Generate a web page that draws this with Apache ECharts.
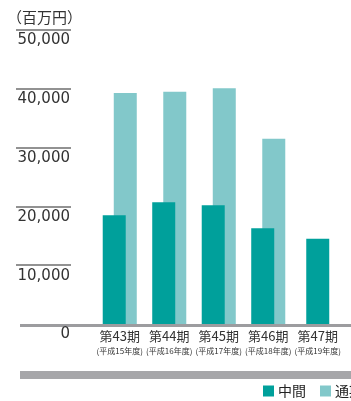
<!DOCTYPE html>
<html>
<head>
<meta charset="utf-8">
<script src="https://cdn.jsdelivr.net/npm/echarts@6/dist/echarts.min.js"></script>
<style>
  html, body { margin: 0; padding: 0; background: #fff; }
  #chart { width: 351px; height: 401px; }
</style>
</head>
<body>
<div id="chart"></div>
<script>
// Fiscal periods and their era-year captions
const periods = ['第43期', '第44期', '第45期', '第46期', '第47期'];
const eraYears = ['平成15年度', '平成16年度', '平成17年度', '平成18年度', '平成19年度'];

// Sales in millions of yen: half-year (中間) and full-year (通期)
const interimValues = [18500, 20700, 20200, 16300, 14500];
const fullYearValues = [39300, 39500, 40100, 31500, null];

// Value axis ticks
const tickValues = [0, 10000, 20000, 30000, 40000, 50000];

const COLOR_INTERIM = '#00a09b';
const COLOR_FULL = '#82c8ca';
const JP_FONT = '"Noto Sans CJK JP", "Noto Sans", sans-serif';

// Periods that have both figures get an overlapping pair; a period with only
// the interim figure gets a single bar centred in its slot.
const pairedInterim = interimValues.map((v, i) => fullYearValues[i] == null ? null : v);
const soloInterim = interimValues.map((v, i) => fullYearValues[i] == null ? v : null);

const chart = echarts.init(document.getElementById('chart'), null, { renderer: 'canvas' });

chart.setOption({
  animation: false,
  backgroundColor: '#ffffff',
  title: {
    text: '（百万円）',
    left: 7,
    top: 10,
    padding: 0,
    textStyle: { fontFamily: JP_FONT, fontSize: 15, fontWeight: 'normal', color: '#333' }
  },
  legend: {
    data: ['中間', '通期'],
    left: 263,
    top: 383,
    width: 200,
    padding: 0,
    icon: 'rect',
    itemWidth: 11,
    itemHeight: 11,
    itemGap: 14,
    textStyle: { fontFamily: JP_FONT, fontSize: 14, color: '#222', lineHeight: 16, padding: [0, 0, 0, -1] }
  },
  grid: [
    { left: 95, right: 8.5, top: 30, bottom: 77 },
    { left: 20, right: 0, top: 30, bottom: 77 }
  ],
  xAxis: [
    {
      type: 'category',
      gridIndex: 0,
      data: periods,
      axisLine: { show: false },
      axisTick: { show: false },
      axisLabel: {
        margin: 5,
        interval: 0,
        formatter: (value, idx) => '{a|' + value + '}\n{b|(' + eraYears[idx] + ')}',
        rich: {
          a: { fontFamily: JP_FONT, fontSize: 13, color: '#333', lineHeight: 15 },
          b: { fontFamily: JP_FONT, fontSize: 8, color: '#333', lineHeight: 14 }
        }
      }
    },
    {
      type: 'category',
      gridIndex: 0,
      data: periods,
      show: false
    },
    {
      // base line along zero
      type: 'category',
      gridIndex: 1,
      data: [''],
      position: 'bottom',
      offset: 1,
      axisLine: { show: true, onZero: false, lineStyle: { color: '#9c9c9f', width: 3, cap: 'butt' } },
      axisTick: { show: false },
      axisLabel: { show: false }
    },
    {
      // footer band
      type: 'category',
      gridIndex: 1,
      data: [''],
      position: 'bottom',
      offset: 51,
      axisLine: { show: true, onZero: false, lineStyle: { color: '#a6a6a9', width: 8, cap: 'butt' } },
      axisTick: { show: false },
      axisLabel: { show: false }
    }
  ],
  yAxis: [
    {
      type: 'value',
      gridIndex: 0,
      min: 0,
      max: 50000,
      interval: 10000,
      position: 'left',
      offset: 24,
      axisLine: { show: false },
      splitLine: { show: false },
      axisTick: {
        show: true,
        length: 55,
        customValues: tickValues.filter(v => v > 0),
        lineStyle: { color: '#6f6f6f', width: 1.5 }
      },
      axisLabel: {
        margin: 1,
        align: 'right',
        verticalAlign: 'top',
        padding: [3, 0, 0, 0],
        customValues: tickValues,
        fontFamily: '"DejaVu Sans", sans-serif',
        fontSize: 15,
        color: '#333',
        formatter: v => v.toLocaleString('en-US')
      }
    },
    {
      type: 'value',
      gridIndex: 1,
      min: 0,
      max: 50000,
      show: false
    }
  ],
  series: [
    {
      name: '中間',
      type: 'bar',
      xAxisIndex: 0,
      yAxisIndex: 0,
      data: pairedInterim,
      barWidth: 23,
      barGap: '-52%',
      z: 3,
      itemStyle: { color: COLOR_INTERIM }
    },
    {
      name: '通期',
      type: 'bar',
      xAxisIndex: 0,
      yAxisIndex: 0,
      data: fullYearValues,
      barWidth: 23,
      z: 2,
      itemStyle: { color: COLOR_FULL }
    },
    {
      name: '中間',
      type: 'bar',
      xAxisIndex: 1,
      yAxisIndex: 0,
      data: soloInterim,
      barWidth: 23,
      z: 3,
      itemStyle: { color: COLOR_INTERIM }
    }
  ]
});
</script>
</body>
</html>
